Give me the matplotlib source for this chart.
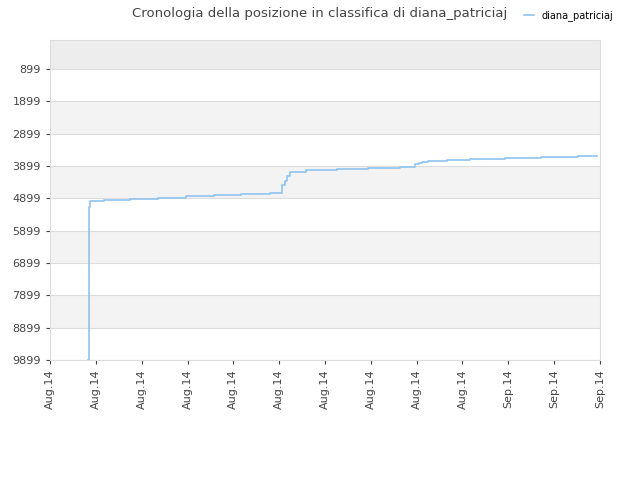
import matplotlib
matplotlib.use("Agg")
import matplotlib.pyplot as plt

# positions in tick units (0..12), ranks
xs = [0.83, 0.845, 0.86, 0.87, 1.18, 1.75, 2.36, 2.97, 3.58, 4.17, 4.8, 5.06, 5.12, 5.18,
      5.24, 5.59, 6.26, 6.94, 7.64, 7.96, 8.05, 8.12, 8.25, 8.66, 9.16, 9.93, 10.71, 11.52, 11.93]
ranks = [9899, 7850, 5170, 4970, 4939, 4908, 4877, 4831, 4800, 4769, 4738, 4500, 4350, 4200,
         4070, 4026, 3995, 3964, 3933, 3850, 3800, 3770, 3748, 3716, 3685, 3654, 3623, 3577, 3577]
yticks = [899, 1899, 2899, 3899, 4899, 5899, 6899, 7899, 8899, 9899]
xlabels = ["Aug.14"] * 10 + ["Sep.14"] * 3

fig = plt.figure(figsize=(6.4, 4.8), dpi=100)
ax = fig.add_axes([50/640, 120/480, 550/640, 320/480])
ax.axhspan(1, 899, color="#ededed", lw=0)
for i, (a, b) in enumerate(zip(yticks[:-1], yticks[1:])):
    if i % 2 == 1:
        ax.axhspan(a, b, color="#f3f3f3", lw=0)
for y in yticks:
    ax.axhline(y, color="#dddddd", lw=0.8)
ax.step(xs, ranks, where="post", color="#90c4f0", lw=1.2, label="diana_patriciaj")
ax.set_xlim(0, 12)
ax.set_ylim(9899, 1)
ax.set_yticks(yticks)
ax.set_xticks(range(13))
ax.set_xticklabels(xlabels, rotation=90)
ax.tick_params(labelsize=8, colors="#444444", length=3)
for s in ax.spines.values():
    s.set_color("#dddddd")
fig.suptitle("Cronologia della posizione in classifica di diana_patriciaj", x=0.5, y=0.985,
             fontsize=9.5, color="#444444")
ax.legend(loc="upper right", bbox_to_anchor=(1.04, 1.12), frameon=False, fontsize=7, handlelength=1)
fig.savefig("out.png")
